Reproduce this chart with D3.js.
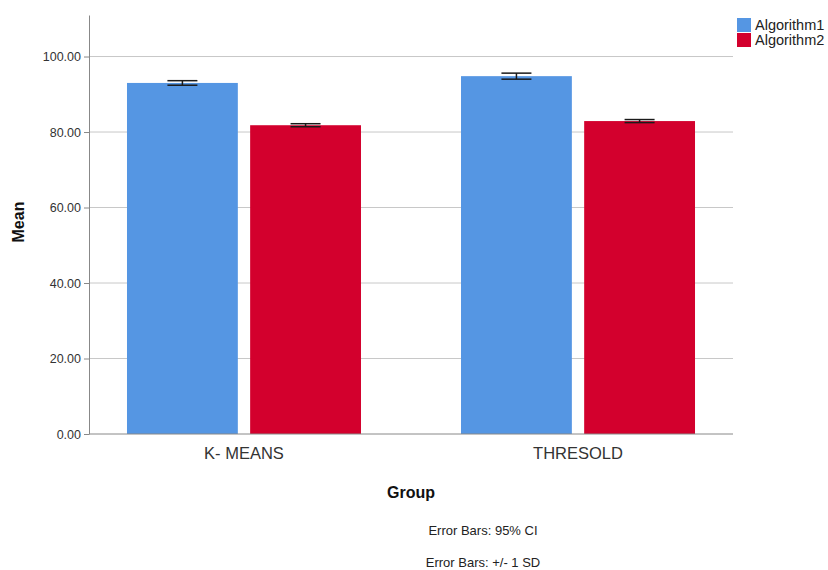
<!DOCTYPE html>
<html>
<head>
<meta charset="utf-8">
<script src="https://cdn.jsdelivr.net/npm/d3@7"></script>
<style>
  body { margin: 0; background: #fff; }
  text { font-family: Arial, "Liberation Sans", sans-serif; }
</style>
</head>
<body>
<div id="chart"></div>
<script>
// data
const groups = ["K- MEANS", "THRESOLD"];
const subgroups = ["Algorithm1", "Algorithm2"];
const algorithm1 = [93.0, 94.8];
const algorithm2 = [81.8, 82.9];
const algorithm1Err = [0.6, 0.8];
const algorithm2Err = [0.4, 0.4];
const yTicks = [0, 20, 40, 60, 80, 100];
const notes = ["Error Bars: 95% CI", "Error Bars: +/- 1 SD"];

const width = 828, height = 570;
const margin = {left: 89, right: 95, top: 15, bottom: 136};

const svg = d3.select("#chart")
              .append("svg")
                .attr("width", width)
                .attr("height", height);

// Y scale
const y = d3.scaleLinear()
            .domain([0, 111])
            .range([height - margin.bottom, margin.top]);

// X scale (groups) and inner scale (subgroups)
const x = d3.scalePoint()
            .domain(groups)
            .range([margin.left, width - margin.right])
            .padding(0.464);

const groupWidth = 234;
const xSub = d3.scaleBand()
               .domain(subgroups)
               .range([-groupWidth / 2, groupWidth / 2])
               .paddingInner(0.1);

const color = d3.scaleOrdinal()
                .domain(subgroups)
                .range(["#5596e3", "#d3002d"]);

// gridlines
svg.append("g")
   .selectAll("line")
   .data(yTicks.filter(d => d > 0))
   .join("line")
     .attr("x1", margin.left)
     .attr("x2", width - margin.right)
     .attr("y1", d => y(d))
     .attr("y2", d => y(d))
     .attr("stroke", "#c8c8c8")
     .attr("stroke-width", 1);

// build rows from the arrays
const rows = groups.map((g, i) => ({
  group: g,
  values: [
    {key: subgroups[0], value: algorithm1[i], err: algorithm1Err[i]},
    {key: subgroups[1], value: algorithm2[i], err: algorithm2Err[i]}
  ]
}));

// bars
const gBars = svg.append("g")
                 .selectAll("g")
                 .data(rows)
                 .join("g")
                   .attr("transform", d => `translate(${x(d.group)},0)`);

gBars.selectAll("rect")
     .data(d => d.values)
     .join("rect")
       .attr("x", d => xSub(d.key))
       .attr("y", d => y(d.value))
       .attr("width", xSub.bandwidth())
       .attr("height", d => y(0) - y(d.value))
       .attr("fill", d => color(d.key));

// error bars
const capW = 30;
const eb = gBars.selectAll("g.err")
                .data(d => d.values)
                .join("g")
                  .attr("class", "err")
                  .attr("transform", d => `translate(${xSub(d.key) + xSub.bandwidth() / 2},0)`)
                  .attr("stroke", "#1a1a1a")
                  .attr("stroke-width", 1.5);

eb.append("line")
  .attr("x1", 0).attr("x2", 0)
  .attr("y1", d => y(d.value + d.err))
  .attr("y2", d => y(d.value - d.err));
eb.append("line")
  .attr("x1", -capW / 2).attr("x2", capW / 2)
  .attr("y1", d => y(d.value + d.err))
  .attr("y2", d => y(d.value + d.err));
eb.append("line")
  .attr("x1", -capW / 2).attr("x2", capW / 2)
  .attr("y1", d => y(d.value - d.err))
  .attr("y2", d => y(d.value - d.err));

// Y axis
const yAxis = svg.append("g")
                 .attr("transform", `translate(${margin.left},0)`)
                 .call(d3.axisLeft(y).tickValues(yTicks).tickFormat(d3.format(".2f")).tickSize(5).tickSizeOuter(0));
yAxis.select(".domain").attr("stroke", "#888");
yAxis.selectAll(".tick line").attr("stroke", "#888");
yAxis.selectAll(".tick text")
     .attr("font-size", 12.5)
     .attr("fill", "#333")
     .attr("font-family", "Arial, 'Liberation Sans', sans-serif");

// X axis line
svg.append("line")
   .attr("x1", margin.left)
   .attr("x2", width - margin.right)
   .attr("y1", y(0))
   .attr("y2", y(0))
   .attr("stroke", "#888");

// X tick labels
svg.append("g")
   .selectAll("text")
   .data(groups)
   .join("text")
     .attr("x", d => x(d))
     .attr("y", y(0) + 25)
     .attr("text-anchor", "middle")
     .attr("font-size", 16.5)
     .attr("fill", "#333")
     .text(d => d);

// axis titles
svg.append("text")
   .attr("transform", `translate(24,222)rotate(-90)`)
   .attr("text-anchor", "middle")
   .attr("font-size", 16)
   .attr("font-weight", "bold")
   .attr("fill", "#111")
   .text("Mean");

svg.append("text")
   .attr("x", 411)
   .attr("y", 498)
   .attr("text-anchor", "middle")
   .attr("font-size", 16)
   .attr("font-weight", "bold")
   .attr("fill", "#111")
   .text("Group");

// notes
svg.append("g")
   .selectAll("text")
   .data(notes)
   .join("text")
     .attr("x", 483)
     .attr("y", (d, i) => 535 + i * 32)
     .attr("text-anchor", "middle")
     .attr("font-size", 13)
     .attr("fill", "#222")
     .text(d => d);

// legend
const legend = svg.append("g")
                  .selectAll("g")
                  .data(subgroups)
                  .join("g")
                    .attr("transform", (d, i) => `translate(737,${18 + i * 15})`);
legend.append("rect")
      .attr("width", 14)
      .attr("height", 14)
      .attr("fill", d => color(d));
legend.append("text")
      .attr("x", 18)
      .attr("y", 12)
      .attr("font-size", 14.5)
      .attr("fill", "#222")
      .text(d => d);
</script>
</body>
</html>
